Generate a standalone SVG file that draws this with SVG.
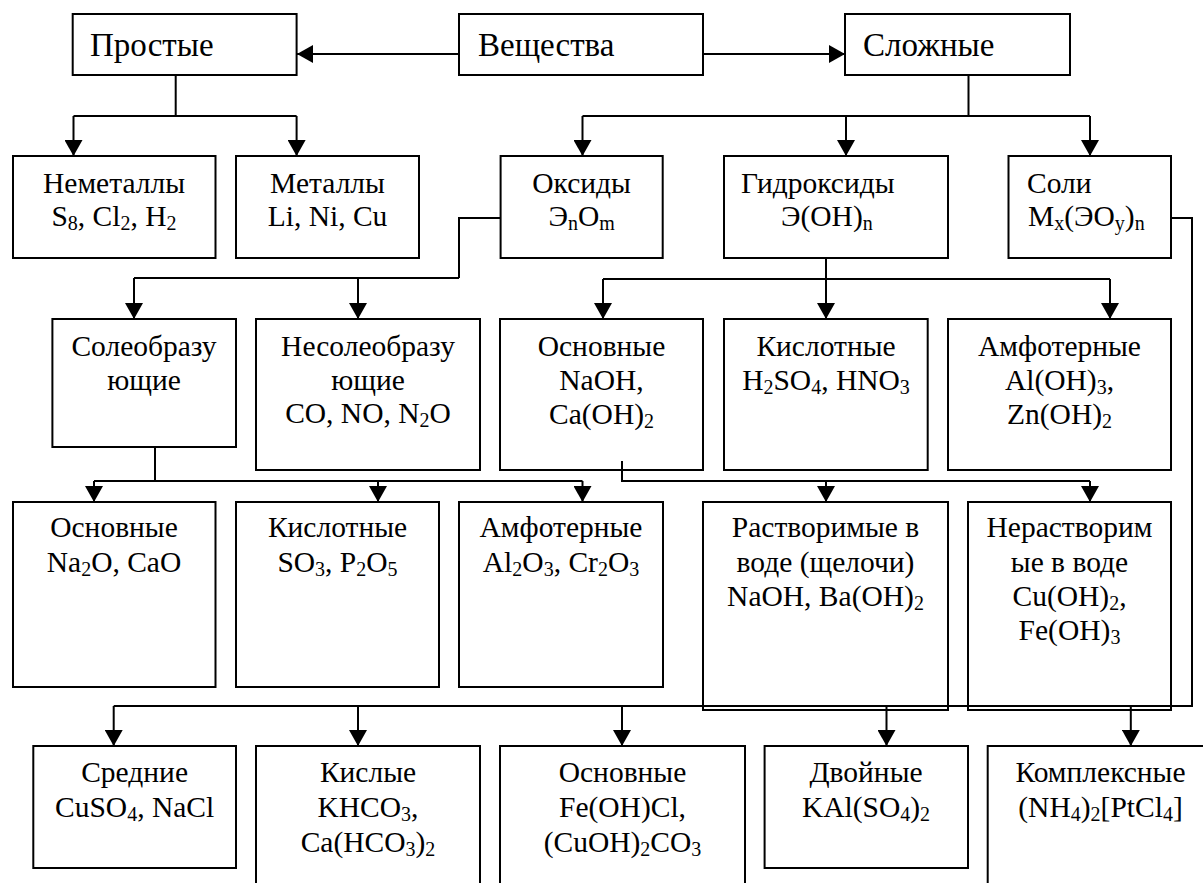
<svg xmlns="http://www.w3.org/2000/svg" width="1203" height="883" viewBox="0 0 1203 883">
<defs>
<marker id="ah" markerUnits="userSpaceOnUse" viewBox="0 0 10 10" preserveAspectRatio="none" markerWidth="16" markerHeight="18" refX="10" refY="5" orient="auto">
<path d="M0,0 L10,5 L0,10 z" fill="#000"/>
</marker>
<style>
.box{fill:#fff;stroke:#000;stroke-width:2}
.ln{fill:none;stroke:#000;stroke-width:2}
.ar{fill:none;stroke:#000;stroke-width:2;marker-end:url(#ah)}
text{font-family:"Liberation Serif","Times New Roman",serif;font-size:29.5px;fill:#000}
.big{font-size:33px}
.c{text-anchor:middle}
.s{font-size:20px;baseline-shift:-4px}
</style>
</defs>
<rect width="1203" height="883" fill="#fff"/>
<g id="connectors">
<path class="ar" d="M459,54 H297"/>
<path class="ar" d="M703,54 H845"/>
<path class="ln" d="M175.7,75 V116 M73.5,116 H296.6"/>
<path class="ar" d="M73.5,116 V156"/>
<path class="ar" d="M296.6,116 V156"/>
<path class="ln" d="M968.5,75 V116 M582.5,116 H1090"/>
<path class="ar" d="M582.5,116 V156"/>
<path class="ar" d="M846,116 V156"/>
<path class="ar" d="M1090,116 V156"/>
<path class="ln" d="M500.6,218 H459 V278 M134,278 H459"/>
<path class="ar" d="M134,278 V319"/>
<path class="ar" d="M358,278 V319"/>
<path class="ln" d="M826,258 V279 M603,279 H1110"/>
<path class="ar" d="M603,279 V319"/>
<path class="ar" d="M826,279 V319"/>
<path class="ar" d="M1110,279 V319"/>
</g>
<g id="n-veshchestva"><rect class="box" x="459" y="14" width="244" height="61"/><text class="big" x="478" y="56">Вещества</text></g>
<g id="n-prostye"><rect class="box" x="72.7" y="14" width="223.9" height="61"/><text class="big" x="90" y="56">Простые</text></g>
<g id="n-slozhnye"><rect class="box" x="845" y="14" width="225" height="61"/><text class="big" x="863" y="56">Сложные</text></g>
<g id="n-nemetally"><rect class="box" x="13" y="156" width="202.5" height="102"/><text class="c" x="114" y="193">Неметаллы</text><text class="c" x="114" y="226">S<tspan class="s">8</tspan>, Cl<tspan class="s">2</tspan>, H<tspan class="s">2</tspan></text></g>
<g id="n-metally"><rect class="box" x="236" y="156" width="183" height="102"/><text class="c" x="327.5" y="193">Металлы</text><text class="c" x="327.5" y="226">Li, Ni, Cu</text></g>
<g id="n-oksidy"><rect class="box" x="500.6" y="156" width="162.1" height="102"/><text class="c" x="581.6" y="193">Оксиды</text><text class="c" x="581.6" y="226">Э<tspan class="s">n</tspan>O<tspan class="s">m</tspan></text></g>
<g id="n-gidroksidy"><rect class="box" x="724" y="156" width="224" height="102"/><text x="741" y="193">Гидроксиды</text><text x="781" y="226">Э(OH)<tspan class="s">n</tspan></text></g>
<g id="n-soli"><rect class="box" x="1008.5" y="156" width="162.5" height="102"/><text x="1027" y="193">Соли</text><text x="1028" y="226">M<tspan class="s">x</tspan>(ЭO<tspan class="s">y</tspan>)<tspan class="s">n</tspan></text></g>
<g id="connectors2">
<path class="ln" d="M155,421 V481 M94,481 H582.5"/>
<path class="ar" d="M94,481 V502"/>
<path class="ar" d="M378,481 V502"/>
<path class="ar" d="M582.5,481 V502"/>
</g>
<g id="n-soleobr"><rect class="box" x="52.4" y="319" width="183.6" height="128"/><text class="c" x="144" y="356">Солеобразу</text><text class="c" x="144" y="390">ющие</text></g>
<g id="n-nesoleobr"><rect class="box" x="256" y="319" width="224" height="151"/><text class="c" x="368" y="356">Несолеобразу</text><text class="c" x="368" y="390">ющие</text><text class="c" x="368" y="423">CO, NO, N<tspan class="s">2</tspan>O</text></g>
<g id="n-osn-gidr"><rect class="box" x="500" y="319" width="203" height="151"/><text class="c" x="601.5" y="356">Основные</text><text class="c" x="601.5" y="390">NaOH,</text><text class="c" x="601.5" y="424">Ca(OH)<tspan class="s">2</tspan></text></g>
<g id="n-kisl-gidr"><rect class="box" x="724" y="319" width="203.7" height="151"/><text class="c" x="826" y="356">Кислотные</text><text class="c" x="826" y="390">H<tspan class="s">2</tspan>SO<tspan class="s">4</tspan>, HNO<tspan class="s">3</tspan></text></g>
<g id="n-amf-gidr"><rect class="box" x="948" y="319" width="223" height="151"/><text class="c" x="1059.5" y="356">Амфотерные</text><text class="c" x="1059.5" y="390">Al(OH)<tspan class="s">3</tspan>,</text><text class="c" x="1059.5" y="424">Zn(OH)<tspan class="s">2</tspan></text></g>
<g id="connectors3">
<path class="ln" d="M622,461 V481 H1090"/>
<path class="ar" d="M826,481 V502"/>
<path class="ar" d="M1090,481 V502"/>
</g>
<g id="n-osn-oks"><rect class="box" x="13" y="502" width="202.5" height="185"/><text class="c" x="114" y="537">Основные</text><text class="c" x="114" y="572">Na<tspan class="s">2</tspan>O, CaO</text></g>
<g id="n-kisl-oks"><rect class="box" x="236" y="502" width="203" height="185"/><text class="c" x="337.5" y="537">Кислотные</text><text class="c" x="337.5" y="572">SO<tspan class="s">3</tspan>, P<tspan class="s">2</tspan>O<tspan class="s">5</tspan></text></g>
<g id="n-amf-oks"><rect class="box" x="459" y="502" width="204" height="185"/><text class="c" x="561" y="537">Амфотерные</text><text class="c" x="561" y="572">Al<tspan class="s">2</tspan>O<tspan class="s">3</tspan>, Cr<tspan class="s">2</tspan>O<tspan class="s">3</tspan></text></g>
<g id="n-rastv"><rect class="box" x="703" y="502" width="245" height="208"/><text class="c" x="825.5" y="537">Растворимые в</text><text class="c" x="825.5" y="572">воде (щелочи)</text><text class="c" x="825.5" y="606">NaOH, Ba(OH)<tspan class="s">2</tspan></text></g>
<g id="n-nerastv"><rect class="box" x="968" y="502" width="203" height="208"/><text class="c" x="1069.5" y="537">Нерастворим</text><text class="c" x="1069.5" y="572">ые в воде</text><text class="c" x="1069.5" y="606">Cu(OH)<tspan class="s">2</tspan>,</text><text class="c" x="1069.5" y="640">Fe(OH)<tspan class="s">3</tspan></text></g>
<g id="connectors4">
<path class="ln" d="M1171,218 H1192 V706 H113.7"/>
<path class="ar" d="M113.7,706 V746"/>
<path class="ar" d="M358,706 V746"/>
<path class="ar" d="M622,706 V746"/>
<path class="ar" d="M886.5,706 V746"/>
<path class="ar" d="M1130.8,706 V746"/>
</g>
<g id="n-srednie"><rect class="box" x="33.3" y="746" width="202.7" height="122"/><text class="c" x="134.6" y="782">Средние</text><text class="c" x="134.6" y="817">CuSO<tspan class="s">4</tspan>, NaCl</text></g>
<g id="n-kislye"><rect class="box" x="256" y="746" width="224" height="160"/><text class="c" x="368" y="782">Кислые</text><text class="c" x="368" y="817">KHCO<tspan class="s">3</tspan>,</text><text class="c" x="368" y="852">Ca(HCO<tspan class="s">3</tspan>)<tspan class="s">2</tspan></text></g>
<g id="n-osn-soli"><rect class="box" x="500" y="746" width="245" height="160"/><text class="c" x="622.5" y="782">Основные</text><text class="c" x="622.5" y="817">Fe(OH)Cl,</text><text class="c" x="622.5" y="852">(CuOH)<tspan class="s">2</tspan>CO<tspan class="s">3</tspan></text></g>
<g id="n-dvoinye"><rect class="box" x="764.6" y="746" width="203.4" height="122"/><text class="c" x="866" y="782">Двойные</text><text class="c" x="866" y="817">KAl(SO<tspan class="s">4</tspan>)<tspan class="s">2</tspan></text></g>
<g id="n-kompl"><rect class="box" x="987.7" y="746" width="240" height="160"/><text class="c" x="1100.5" y="782">Комплексные</text><text class="c" x="1100.5" y="817">(NH<tspan class="s">4</tspan>)<tspan class="s">2</tspan>[PtCl<tspan class="s">4</tspan>]</text></g>
</svg>
